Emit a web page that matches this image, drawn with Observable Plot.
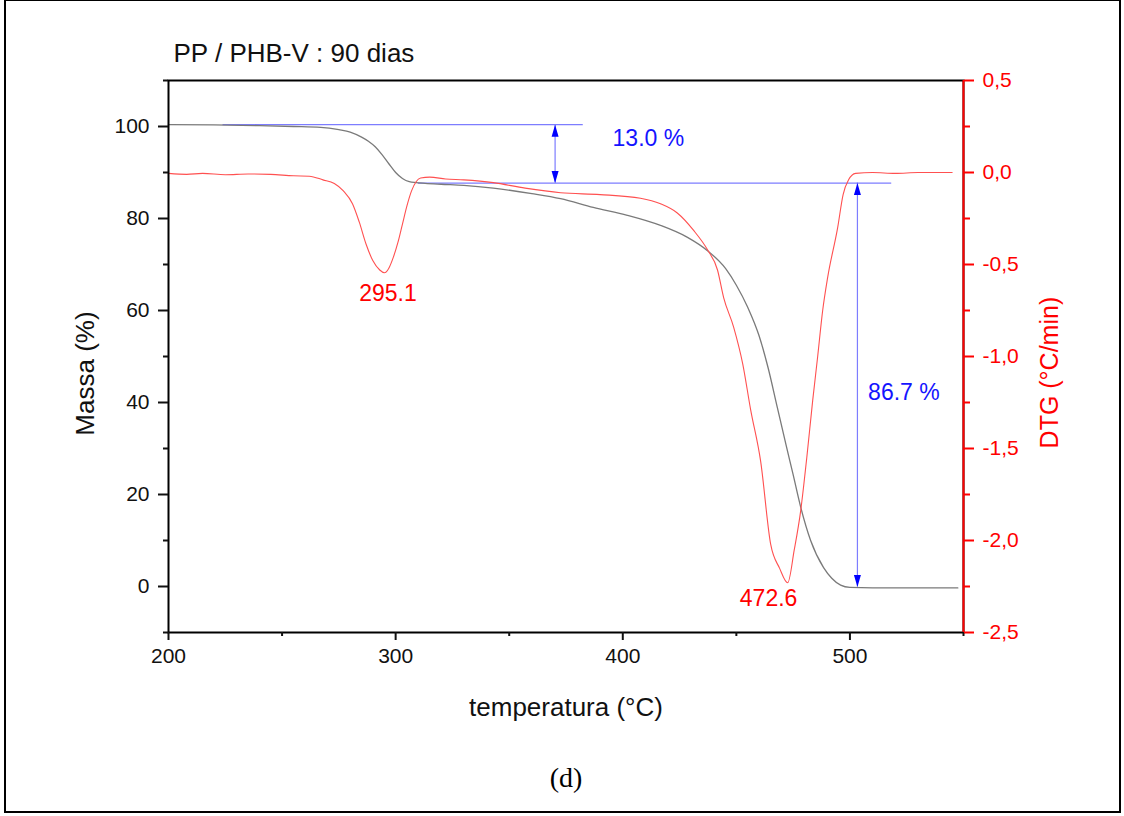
<!DOCTYPE html>
<html>
<head>
<meta charset="utf-8">
<script src="https://cdn.jsdelivr.net/npm/d3@7"></script>
<script src="https://cdn.jsdelivr.net/npm/@observablehq/plot@0.6"></script>
<style>
  html, body { margin: 0; padding: 0; background: #fff; }
  #wrap { position: relative; width: 1124px; height: 816px; overflow: hidden; }
  #border { position: absolute; left: 4px; top: -1px; width: 1117px; height: 814px; border: 2px solid #000; box-sizing: border-box; pointer-events: none; }
  #chart { position: absolute; left: 0; top: 0; }
</style>
</head>
<body>
<div id="wrap"><div id="chart"></div><div id="border"></div></div>
<script>
// ---- data ----
const massT = [200, 220, 240, 255, 267, 275, 280, 285, 288, 291, 294, 297, 300, 303, 306, 309, 313, 320, 330, 343, 360, 372.6, 387, 402, 416.6, 428.5, 437.3, 445.3, 450, 455, 460, 464, 468, 472, 475, 478.3, 482.7, 488.4, 492, 495.9, 500, 510, 547.5];
const massV = [100.4, 100.35, 100.2, 100.0, 99.8, 99.3, 98.8, 97.7, 96.8, 95.6, 93.9, 91.9, 90.0, 88.7, 88.0, 87.8, 87.65, 87.45, 87.2, 86.6, 85.4, 84.3, 82.4, 80.7, 78.5, 75.9, 73.0, 69.1, 65.5, 60.7, 54.5, 47.5, 39.0, 30.5, 24.3, 17.3, 10.0, 4.1, 1.8, 0.3, -0.2, -0.3, -0.3];

const dtgT = [200, 208, 215, 225, 235, 245, 255, 262, 268, 273, 277, 281, 284, 287, 290, 293, 295.1, 297, 299, 301, 303, 305, 307, 309, 311, 315, 322, 330, 343, 357, 372.6, 390, 407.8, 416.6, 424, 431.2, 437.3, 441.7, 444.4, 448.8, 452.8, 456.3, 460.7, 465.1, 469, 472.6, 475.5, 478.3, 481, 483.6, 485.8, 488, 490.2, 494.6, 497, 499.4, 502.5, 510, 520, 530, 545];
const dtgV = [-0.005, -0.01, -0.005, -0.012, -0.008, -0.01, -0.018, -0.02, -0.04, -0.06, -0.10, -0.17, -0.27, -0.39, -0.48, -0.53, -0.545, -0.52, -0.46, -0.38, -0.28, -0.18, -0.10, -0.05, -0.03, -0.025, -0.035, -0.04, -0.055, -0.085, -0.11, -0.12, -0.14, -0.17, -0.22, -0.315, -0.42, -0.53, -0.68, -0.84, -1.04, -1.29, -1.57, -2.02, -2.15, -2.23, -2.05, -1.84, -1.55, -1.24, -1.0, -0.75, -0.57, -0.30, -0.12, -0.04, -0.005, 0.0, -0.005, 0.0, 0.0];

const tempTicks = [200, 300, 400, 500];
const tempMinor = [250, 350, 450, 550];
const massTicks = [0, 20, 40, 60, 80, 100];
const massMinor = [-10, 10, 30, 50, 70, 90, 110];
const dtgTicks = [0.5, 0.0, -0.5, -1.0, -1.5, -2.0, -2.5];
const dtgMinor = [0.25, -0.25, -0.75, -1.25, -1.75, -2.25];

const stepLevels = [100.4, 87.7, -0.1];        // mass plateaus (%)
const stepLosses = ["13.0 %", "86.7 %"];        // mass loss of each step
const peakTemps = [295.1, 472.6];               // DTG peak temperatures
const titleText = "PP / PHB-V : 90 dias";

// ---- DTG mapped onto the mass scale (right axis) ----
const dtgMin = -2.5, dtgMax = 0.5, mMin = -10, mMax = 110;
const toY = v => mMin + (v - dtgMin) * (mMax - mMin) / (dtgMax - dtgMin);
const fromY = m => dtgMin + (m - mMin) * (dtgMax - dtgMin) / (mMax - mMin);
const fmtComma = v => (Math.round(v * 10) / 10).toFixed(1).replace(".", ",");

const massRows = massT.map((t, i) => ({t, v: massV[i]}));
const dtgRows = dtgT.map((t, i) => ({t, v: toY(dtgV[i])}));

const arrows = [
  {t: 370.2, top: stepLevels[0], bottom: stepLevels[1]},
  {t: 503.3, top: stepLevels[1], bottom: stepLevels[2]}
];
const guides = [
  {y: stepLevels[0], x1: 224, x2: 382.6},
  {y: stepLevels[1], x1: 310, x2: 518.4}
];
const upHead = {draw(ctx) { ctx.moveTo(0, 0); ctx.lineTo(3.5, 12); ctx.lineTo(-3.5, 12); ctx.closePath(); }};
const downHead = {draw(ctx) { ctx.moveTo(0, 0); ctx.lineTo(3.5, -12); ctx.lineTo(-3.5, -12); ctx.closePath(); }};
const ups = arrows.map(a => ({t: a.t, y: a.top}));
const downs = arrows.map(a => ({t: a.t, y: a.bottom}));

const lossLabels = [
  {t: 395.5, y: 97.4, text: stepLosses[0]},
  {t: 508, y: 42.2, text: stepLosses[1]}
];
const peakLabels = [
  {t: 296.6, y: 63.7, text: peakTemps[0].toFixed(1)},
  {t: 464.2, y: -2.6, text: peakTemps[1].toFixed(1)}
];

const blue = "#1414ff", lightBlue = "#7d7dff", red = "#ff0000";

const plot = Plot.plot({
  width: 1124,
  height: 816,
  marginLeft: 168,
  marginRight: 161,
  marginTop: 80,
  marginBottom: 184,
  style: {fontFamily: "'Liberation Sans', Arial, sans-serif", background: "transparent", color: "#111"},
  x: {domain: [200, 550]},
  y: {domain: [mMin, mMax]},
  marks: [
    // guides and arrows
    Plot.ruleY(guides, {y: "y", x1: "x1", x2: "x2", stroke: lightBlue, strokeWidth: 1.2}),
    Plot.ruleX(arrows, {x: "t", y1: "top", y2: "bottom", stroke: lightBlue, strokeWidth: 1.2}),
    Plot.dot(ups, {x: "t", y: "y", symbol: upHead, fill: "#0000ff", stroke: null}),
    Plot.dot(downs, {x: "t", y: "y", symbol: downHead, fill: "#0000ff", stroke: null}),
    // curves
    Plot.line(massRows, {x: "t", y: "v", stroke: "#7a7a7a", strokeWidth: 1.3, curve: "monotone-x"}),
    Plot.line(dtgRows, {x: "t", y: "v", stroke: "#ff5050", strokeWidth: 1.1, curve: "monotone-x"}),
    // frame and axes
    Plot.frame({stroke: "#000", strokeWidth: 2}),
    Plot.ruleX([550], {stroke: red, strokeWidth: 2}),
    Plot.axisX({ticks: tempTicks, tickSize: 8, tickPadding: 8, fontSize: 21, label: null, strokeWidth: 2, color: "#111"}),
    Plot.axisX({ticks: tempMinor, tickSize: 4, tickFormat: () => "", label: null, strokeWidth: 2}),
    Plot.axisY({ticks: massTicks, tickSize: 10, tickPadding: 9, fontSize: 21, label: null, strokeWidth: 2, color: "#111"}),
    Plot.axisY({ticks: massMinor, tickSize: 5, tickFormat: () => "", label: null, strokeWidth: 2}),
    Plot.axisY({anchor: "right", ticks: dtgTicks.map(toY), tickFormat: d => fmtComma(fromY(d)), tickSize: 10, tickPadding: 9, fontSize: 21, label: null, strokeWidth: 2, color: red}),
    Plot.axisY({anchor: "right", ticks: dtgMinor.map(toY), tickFormat: () => "", tickSize: 6, label: null, strokeWidth: 2, color: red}),
    // annotations
    Plot.text(lossLabels, {x: "t", y: "y", text: "text", fill: blue, fontSize: 23, textAnchor: "start"}),
    Plot.text(peakLabels, {x: "t", y: "y", text: "text", fill: red, fontSize: 23}),
    // titles
    Plot.text([titleText], {frameAnchor: "top-left", dx: 5, dy: -27, textAnchor: "start", lineAnchor: "middle", fontSize: 26, fill: "#111"}),
    Plot.text(["temperatura (°C)"], {frameAnchor: "bottom", dy: 75, lineAnchor: "middle", fontSize: 26, fill: "#111"}),
    Plot.text(["(d)"], {frameAnchor: "bottom", dy: 146, lineAnchor: "middle", fontSize: 28, fill: "#000", fontFamily: "'Liberation Serif', 'Times New Roman', serif"}),
    Plot.text([{t: 163.5, y: 46.3}], {x: "t", y: "y", text: () => "Massa (%)", rotate: -90, fontSize: 26, fill: "#111"}),
    Plot.text([{t: 587.9, y: 46.5}], {x: "t", y: "y", text: () => "DTG (°C/min)", rotate: -90, fontSize: 25, fill: red})
  ]
});
document.getElementById("chart").appendChild(plot);
</script>
</body>
</html>
